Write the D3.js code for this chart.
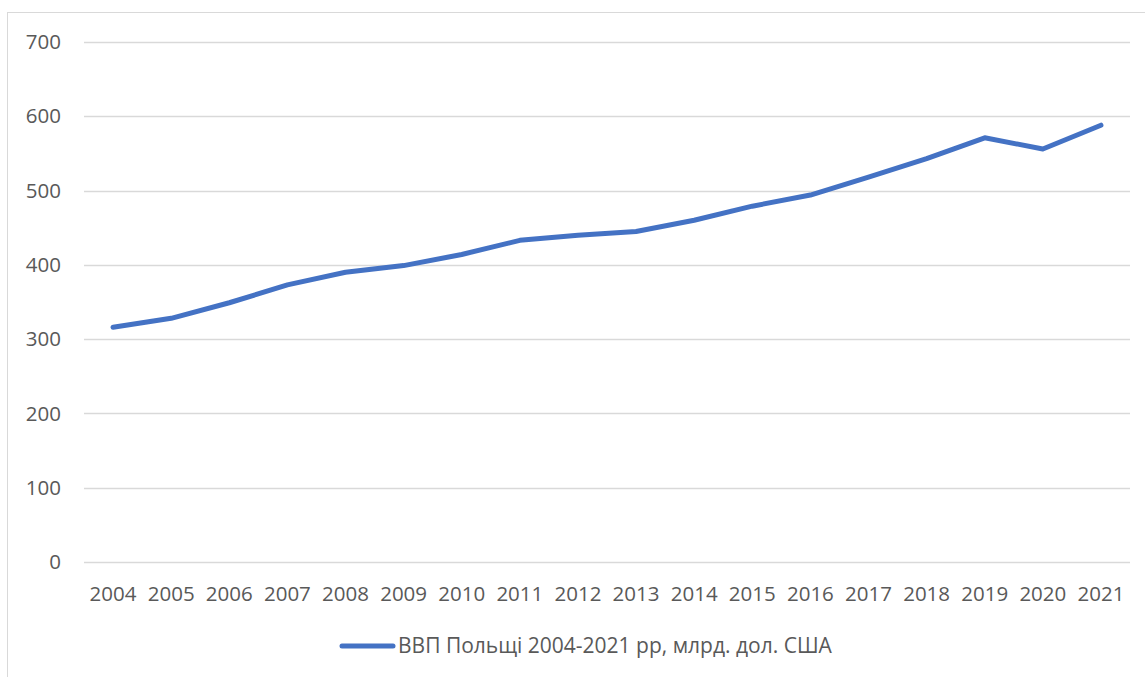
<!DOCTYPE html>
<html>
<head>
<meta charset="utf-8">
<script src="https://cdn.jsdelivr.net/npm/d3@7"></script>
<style>
  body { margin: 0; background: #fff; }
  text { font-family: "Open Sans", "Noto Sans", sans-serif; fill: #595959; }
</style>
</head>
<body>
<div id="chart"></div>
<script>
  // chart data
  var years = ['2004', '2005', '2006', '2007', '2008', '2009', '2010', '2011', '2012',
    '2013', '2014', '2015', '2016', '2017', '2018', '2019', '2020', '2021'];
  var gdp = [316, 328, 349, 373, 390, 399, 414, 433, 440, 445, 460, 479, 494, 518, 543, 571, 556, 588];
  var yTicks = [0, 100, 200, 300, 400, 500, 600, 700];
  var seriesName = 'ВВП Польщі 2004-2021 рр, млрд. дол. США';

  var width = 1145, height = 677;
  var svg = d3.select('#chart').append('svg')
    .attr('width', width)
    .attr('height', height);

  // chart frame
  svg.append('rect')
    .attr('x', 7.5).attr('y', 12.5)
    .attr('width', 1300).attr('height', 800)
    .attr('fill', 'none')
    .attr('stroke', '#d9d9d9');

  var x = d3.scaleBand().domain(years).range([84, 1130]).padding(0);
  var y = d3.scaleLinear().domain([0, 700]).range([562, 42]);

  // gridlines
  svg.append('g')
    .selectAll('line')
    .data(yTicks)
    .enter().append('line')
    .attr('x1', 84).attr('x2', 1130)
    .attr('y1', function (d) { return Math.round(y(d)) + 0.5; })
    .attr('y2', function (d) { return Math.round(y(d)) + 0.5; })
    .attr('stroke', '#d9d9d9')
    .attr('stroke-width', 1.3);

  // y labels
  svg.append('g')
    .selectAll('text')
    .data(yTicks)
    .enter().append('text')
    .attr('x', 61)
    .attr('y', function (d) { return y(d); })
    .attr('dy', '0.35em')
    .attr('text-anchor', 'end')
    .style('font-size', '20.5px')
    .text(function (d) { return d; });

  // x labels
  svg.append('g')
    .selectAll('text')
    .data(years)
    .enter().append('text')
    .attr('x', function (d) { return x(d) + x.bandwidth() / 2; })
    .attr('y', 601)
    .attr('text-anchor', 'middle')
    .style('font-size', '20.5px')
    .text(function (d) { return d; });

  // series line
  var line = d3.line()
    .x(function (d, i) { return x(years[i]) + x.bandwidth() / 2; })
    .y(function (d) { return y(d); });

  svg.append('path')
    .datum(gdp)
    .attr('d', line)
    .attr('fill', 'none')
    .attr('stroke', '#4472c4')
    .attr('stroke-width', 5)
    .attr('stroke-linecap', 'round')
    .attr('stroke-linejoin', 'round');

  // legend
  var legend = svg.append('g');
  legend.append('line')
    .attr('x1', 342).attr('x2', 393)
    .attr('y1', 646).attr('y2', 646)
    .attr('stroke', '#4472c4')
    .attr('stroke-width', 5)
    .attr('stroke-linecap', 'round');
  legend.append('text')
    .attr('x', 398)
    .attr('y', 653)
    .style('font-size', '21px')
    .text(seriesName);
</script>
</body>
</html>
